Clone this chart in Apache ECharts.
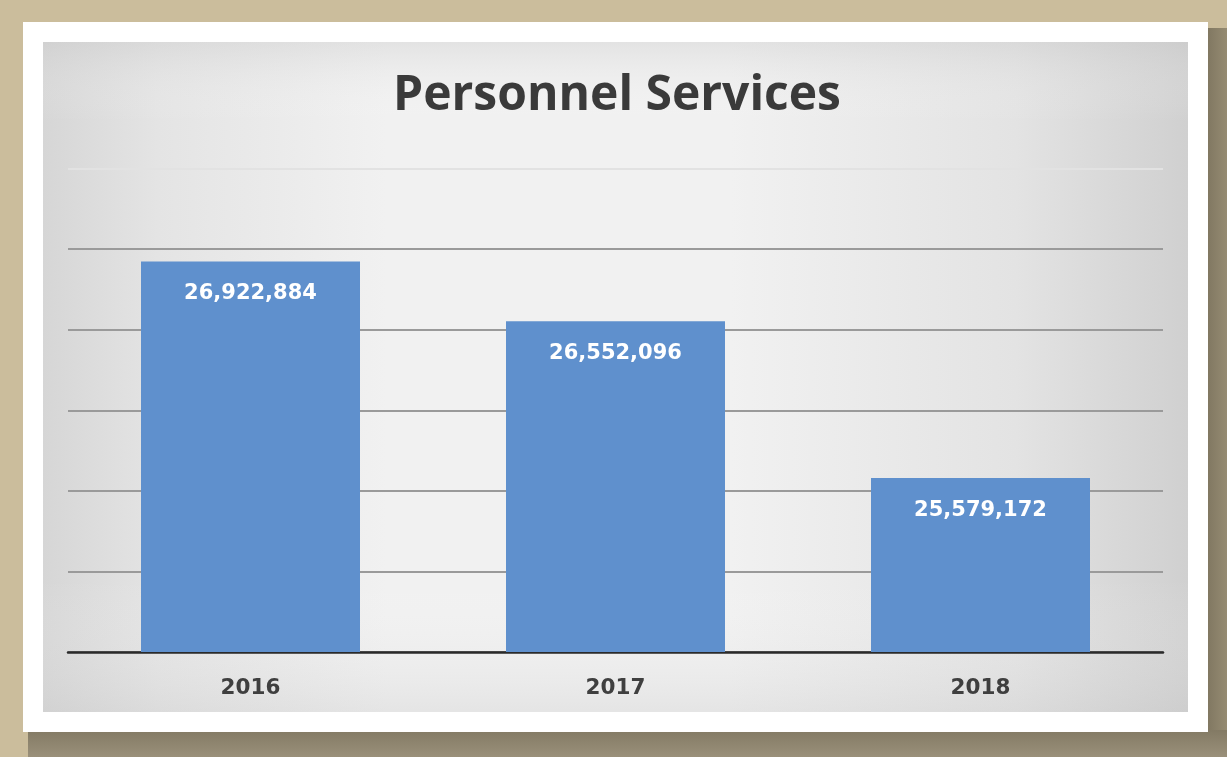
<!DOCTYPE html>
<html>
<head>
<meta charset="utf-8">
<script src="https://cdn.jsdelivr.net/npm/echarts@6/dist/echarts.min.js"></script>
<style>
html,body{margin:0;padding:0;background:#cbbd9c;}
#c{width:1227px;height:757px;}
</style>
</head>
<body>
<div id="c"></div>
<script>
const titleText = 'Personnel Services';
const categories = ['2016', '2017', '2018'];
const values = [26922884, 26552096, 25579172];
const axisMin = 24500000;
const axisMax = 27500000;
const axisStep = 500000;

const chart = echarts.init(document.getElementById('c'));
const option = {
  backgroundColor: '#cbbd9c',
  animation: false,
  graphic: [
    { type: 'rect', z: -10, shape: { x: 1206, y: 28, width: 21, height: 729 },
      style: { fill: new echarts.graphic.LinearGradient(0, 0, 1, 0, [{offset:0,color:'#7f7660'},{offset:1,color:'#958b72'}]) } },
    { type: 'rect', z: -10, shape: { x: 28, y: 730, width: 1199, height: 27 },
      style: { fill: new echarts.graphic.LinearGradient(0, 0, 0, 1, [{offset:0,color:'#837a64'},{offset:1,color:'#9a907a'}]) } },
    { type: 'rect', z: -9, shape: { x: 23, y: 22, width: 1185, height: 710 }, style: { fill: '#ffffff' } },
    { type: 'rect', z: -8, shape: { x: 43, y: 42, width: 1145, height: 670 },
      style: { fill: new echarts.graphic.LinearGradient(0, 0, 1, 0, [
        {offset:0,color:'#d6d6d6'},{offset:0.1,color:'#e4e4e4'},{offset:0.3,color:'#f1f1f1'},
        {offset:0.6,color:'#f1f1f1'},{offset:0.85,color:'#e3e3e3'},{offset:1,color:'#d0d0d0'}]) } },
    { type: 'rect', z: -7, shape: { x: 43, y: 42, width: 1145, height: 670 },
      style: { fill: new echarts.graphic.LinearGradient(0, 0, 0, 1, [
        {offset:0,color:'rgba(200,200,200,0.35)'},{offset:0.12,color:'rgba(255,255,255,0)'},
        {offset:0.8,color:'rgba(255,255,255,0)'},{offset:1,color:'rgba(200,200,200,0.3)'}]) } },
    { type: 'text', z: 10, x: 617, y: 96,
      style: { text: titleText, fill: '#3a3a3a', font: 'bold 48px "Open Sans"', align: 'center', verticalAlign: 'middle' } }
  ],
  grid: { left: 68, right: 64, top: 168.5, bottom: 105, containLabel: false },
  xAxis: {
    type: 'category',
    data: categories,
    axisLine: { show: true, lineStyle: { color: '#2a2a2a', width: 2.5 } },
    axisTick: { show: false },
    axisLabel: { color: '#3f3f3f', fontFamily: 'DejaVu Sans', fontWeight: 'bold', fontSize: 21.5, margin: 25 }
  },
  yAxis: {
    type: 'value',
    min: axisMin,
    max: axisMax,
    interval: axisStep,
    axisLine: { show: false },
    axisTick: { show: false },
    axisLabel: { show: false },
    splitLine: { lineStyle: { color: ['#999','#9a9a9a','#9a9a9a','#9a9a9a','#9a9a9a','#9a9a9a','#e2e2e2'], width: 1.8 } }
  },
  series: [{
    type: 'bar',
    data: values,
    barWidth: '60%',
    itemStyle: { color: '#5f90cd' },
    label: {
      show: true,
      position: 'insideTop',
      distance: 22,
      color: '#ffffff',
      fontFamily: 'DejaVu Sans',
      fontWeight: 'bold',
      fontSize: 21,
      formatter: p => p.value.toLocaleString('en-US')
    }
  }]
};
chart.setOption(option);
</script>
</body>
</html>
